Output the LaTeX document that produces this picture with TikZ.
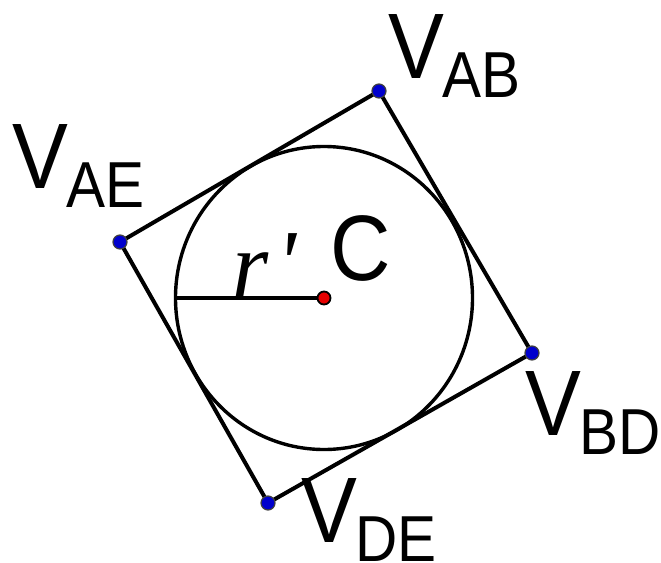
\documentclass[tikz,border=0pt]{standalone}
\usepackage{fontspec}
\setmainfont{Liberation Sans}
\newfontfamily\seriffont{Liberation Serif}
\definecolor{dotblue}{RGB}{0,0,205}
\definecolor{dotred}{RGB}{230,0,0}
\newcommand{\vlabel}[1]{\scalebox{0.9}[1]{\fontsize{93}{93}\selectfont V\kern-2pt\raisebox{-19pt}{\fontsize{65}{65}\selectfont #1}}}
\begin{document}
\begin{tikzpicture}[x=1pt,y=-1pt,
  edge/.style={line width=4pt,black},
  circ/.style={line width=3.4pt,black},
  vdot/.style={circle,fill=dotblue,draw=black!75,line width=1.2pt,minimum size=14pt,inner sep=0pt},
  cdot/.style={circle,fill=dotred,draw=black,line width=1.8pt,minimum size=13pt,inner sep=0pt},
  lab/.style={inner sep=0pt,anchor=base west}]
\useasboundingbox (0,0) rectangle (661,562);
\coordinate (AE) at (120,242);
\coordinate (AB) at (379,91);
\coordinate (BD) at (532,353);
\coordinate (DE) at (268,503);
\coordinate (C) at (324,298);
\coordinate (R) at (175,298);
\draw[circ] (C) ellipse [x radius=148.5, y radius=151.5];
\draw[edge,line join=round] (AE) -- (AB) -- (BD) -- (DE) -- cycle;
\draw[line width=3.2pt] (R) -- (C);
\node[vdot] (nAE) at (AE) {};
\node[vdot] (nAB) at (AB) {};
\node[vdot] (nBD) at (BD) {};
\node[vdot] (nDE) at (DE) {};
\node[cdot] (nC) at (C) {};
\node[lab] (lAE) at (12,188) {\vlabel{AE}};
\node[lab] (lAB) at (388,78) {\vlabel{AB}};
\node[lab] (lBD) at (525,435) {\vlabel{BD}};
\node[lab] (lDE) at (301,542) {\vlabel{DE}};
\node[lab] (lC) at (330,280) {\scalebox{0.9}[1]{\fontsize{93}{93}\selectfont C}};
\node[lab] (lr) at (232,296) {\fontsize{93}{93}\selectfont\seriffont\itshape r\kern8pt\raisebox{2pt}{\textquotesingle}};
\end{tikzpicture}
\end{document}
